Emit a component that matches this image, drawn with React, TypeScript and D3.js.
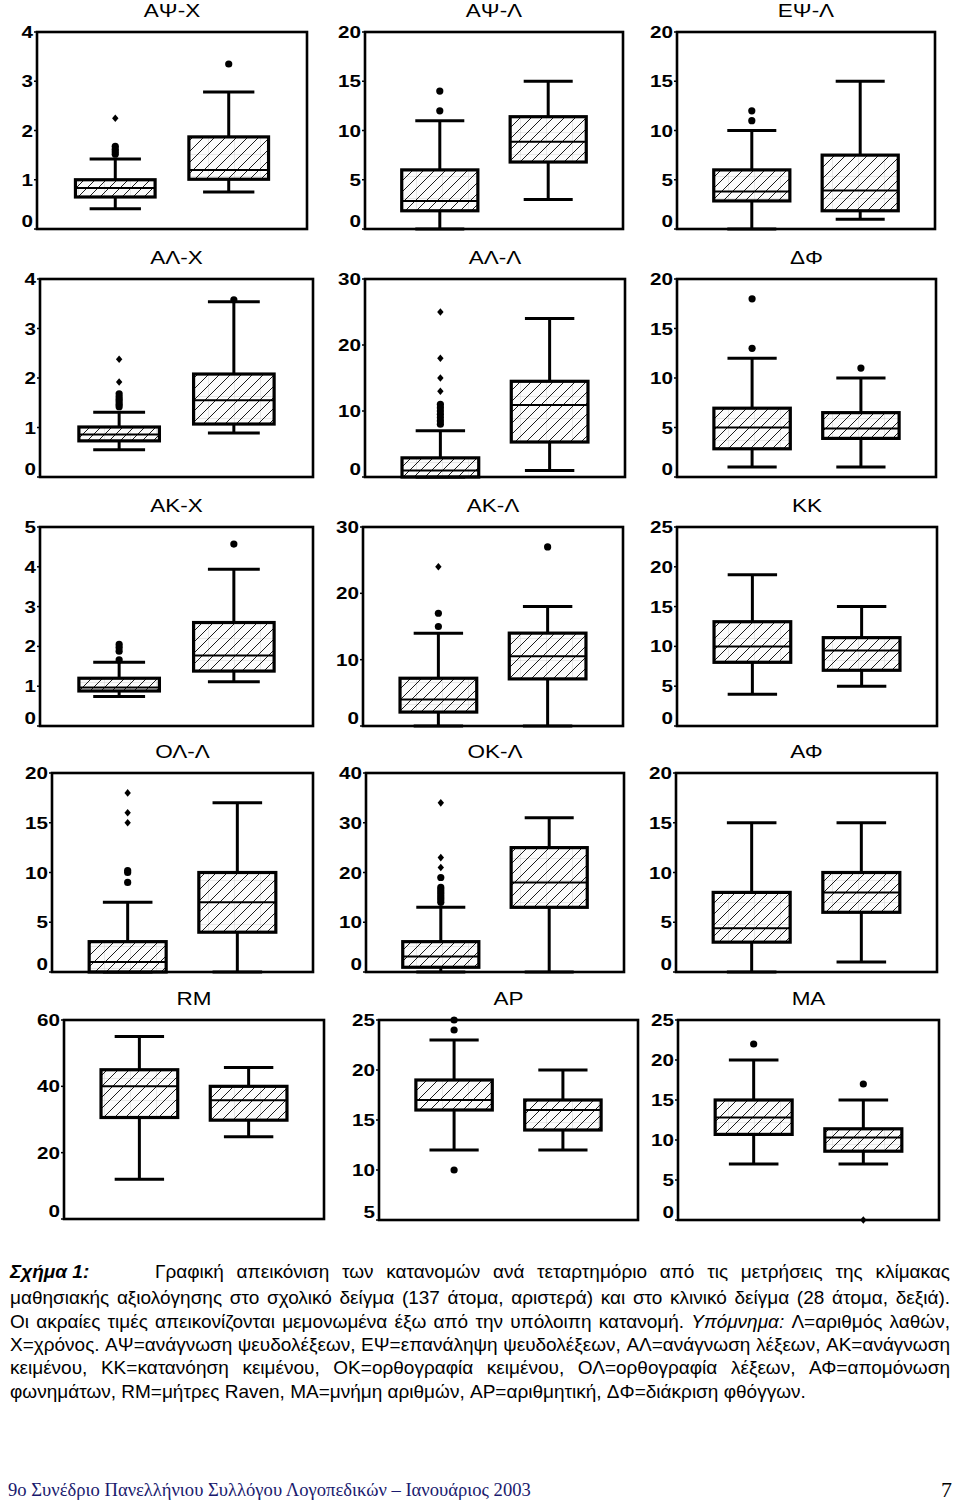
import React from "react";
import * as d3 from "d3";

// ---------- DATA ----------
const panelTitles = ["ΑΨ-Χ", "ΑΨ-Λ", "ΕΨ-Λ", "ΑΛ-Χ", "ΑΛ-Λ", "ΔΦ", "ΑΚ-Χ", "ΑΚ-Λ", "ΚΚ", "ΟΛ-Λ", "ΟΚ-Λ", "ΑΦ", "RM", "ΑΡ", "ΜΑ"];
const axisMin = [0, 0, 0, 0, 0, 0, 0, 0, 0, 0, 0, 0, 0, 5, 0];
const axisMax = [4, 20, 20, 4, 30, 20, 5, 30, 25, 20, 40, 20, 60, 25, 25];
const tickValues = [
  [0, 1, 2, 3, 4], [0, 5, 10, 15, 20], [0, 5, 10, 15, 20],
  [0, 1, 2, 3, 4], [0, 10, 20, 30], [0, 5, 10, 15, 20],
  [0, 1, 2, 3, 4, 5], [0, 10, 20, 30], [0, 5, 10, 15, 20, 25],
  [0, 5, 10, 15, 20], [0, 10, 20, 30, 40], [0, 5, 10, 15, 20],
  [0, 20, 40, 60], [5, 10, 15, 20, 25], [0, 5, 10, 15, 20, 25],
];
const groups = ["school", "clinic"];

// school sample (left box)
const schoolLow = [0.41, 0, 0, 0.55, 0, 1, 0.74, 0, 4, 0, 0, 0, 12, 12, 7];
const schoolQ1 = [0.65, 1.85, 2.85, 0.73, 0, 2.85, 0.88, 2.1, 8, 0, 0.95, 3, 30.6, 16, 10.7];
const schoolMedian = [0.83, 2.85, 3.8, 0.86, 1, 5, 0.97, 4, 10, 1, 3.1, 4.4, 40, 17, 12.8];
const schoolQ3 = [1.0, 6, 6, 1.01, 2.9, 6.95, 1.2, 7.2, 13.1, 3.05, 6.1, 8, 45, 19, 15];
const schoolHigh = [1.42, 11, 10, 1.31, 7, 12, 1.6, 14, 19, 7, 13, 15, 55, 23, 20];
const schoolOutliers = [
  [1.52, 1.57, 1.62, 1.68], [12, 14], [11, 12],
  [1.42, 1.47, 1.52, 1.57, 1.62, 1.68], [8, 8.5, 9, 9.5, 10, 10.5, 11], [13, 18],
  [1.66, 1.88, 1.97, 2.05], [15, 17], [],
  [9, 10, 10.2], [14, 14.5, 15, 15.5, 16, 16.5, 17, 19], [],
  [], [10, 24, 25], [22],
];
const schoolExtremes = [
  [2.25], [], [],
  [1.92, 2.38], [13, 15, 18, 25], [],
  [], [24], [],
  [15, 16, 18], [21, 23, 34], [],
  [], [], [],
];

// clinical sample (right box)
const clinicLow = [0.75, 3, 1, 0.89, 1, 1, 1.11, 0, 5, 0, 0, 1, 24.8, 12, 7];
const clinicQ1 = [1.01, 6.8, 1.85, 1.07, 5.3, 3.9, 1.38, 7.1, 7, 4, 13, 6, 29.8, 14, 8.6];
const clinicMedian = [1.2, 8.85, 3.9, 1.55, 10.9, 4.9, 1.77, 10.5, 9.5, 7, 18, 8, 35.8, 16, 10.3];
const clinicQ3 = [1.87, 11.4, 7.5, 2.08, 14.5, 6.5, 2.6, 14, 11.1, 10, 25, 10, 40, 17, 11.4];
const clinicHigh = [2.78, 15, 15, 3.54, 24, 10, 3.94, 18, 15, 17, 31, 15, 45.7, 20, 15];
const clinicOutliers = [
  [3.35], [], [],
  [3.58], [], [11],
  [4.57], [27], [],
  [], [], [],
  [], [], [17],
];
const clinicExtremes = [
  [], [], [],
  [], [], [],
  [], [], [],
  [], [], [],
  [], [], [0],
];

// ---------- LAYOUT ----------
const frames: number[][] = [
  [37, 32, 307, 229], [365, 32, 623, 229], [677, 32, 935, 229],
  [40, 279, 313, 477], [365, 279, 625, 477], [677, 279, 936, 477],
  [40, 527, 313, 726], [363, 527, 623, 726], [677, 527, 937, 726],
  [52, 773, 313, 972], [366, 773, 624, 972], [676, 773, 937, 972],
  [64, 1020, 324, 1219], [379, 1020, 638, 1220], [678, 1020, 939, 1220],
];

const SANS = "'Liberation Sans', Arial, Helvetica, sans-serif";
const SERIF = "'Liberation Serif', 'Times New Roman', serif";

type Seg = { t: string; i?: boolean };
const captionLines: { segs: Seg[]; x0: number; x1: number; justify: boolean; y: number; lead?: Seg }[] = [
  { lead: { t: "Σχήμα 1:", i: true }, segs: [{ t: "Γραφική απεικόνιση των κατανομών ανά τεταρτημόριο από τις μετρήσεις της κλίμακας" }], x0: 155, x1: 950, justify: true, y: 1278 },
  { segs: [{ t: "μαθησιακής αξιολόγησης στο σχολικό δείγμα (137 άτομα, αριστερά) και στο κλινικό δείγμα (28 άτομα, δεξιά)." }], x0: 10, x1: 950, justify: true, y: 1304 },
  { segs: [{ t: "Οι ακραίες τιμές απεικονίζονται μεμονωμένα έξω από την υπόλοιπη κατανομή." }, { t: "Υπόμνημα:", i: true }, { t: "Λ=αριθμός λαθών," }], x0: 10, x1: 950, justify: true, y: 1328 },
  { segs: [{ t: "Χ=χρόνος." }, { t: "ΑΨ=ανάγνωση ψευδολέξεων, ΕΨ=επανάληψη ψευδολέξεων, ΑΛ=ανάγνωση λέξεων, ΑΚ=ανάγνωση" }], x0: 10, x1: 950, justify: true, y: 1351 },
  { segs: [{ t: "κειμένου, ΚΚ=κατανόηση κειμένου, ΟΚ=ορθογραφία κειμένου, ΟΛ=ορθογραφία λέξεων, ΑΦ=απομόνωση" }], x0: 10, x1: 950, justify: true, y: 1374 },
  { segs: [{ t: "φωνημάτων, RM=μήτρες Raven, MA=μνήμη αριθμών, AP=αριθμητική, ΔΦ=διάκριση φθόγγων." }], x0: 10, x1: 950, justify: false, y: 1398 },
];

let ctx: CanvasRenderingContext2D | null = null;
function measure(s: string, font: string) {
  if (!ctx) ctx = document.createElement("canvas").getContext("2d");
  if (!ctx) return s.length * 8;
  ctx.font = font;
  return ctx.measureText(s).width;
}
const CAP_SIZE = 19;

function layoutLine(line: (typeof captionLines)[number]) {
  const words: { t: string; i: boolean; w: number }[] = [];
  line.segs.forEach((s) => {
    s.t.split(" ").filter((w) => w.length).forEach((w) => {
      const font = `${s.i ? "italic " : ""}${CAP_SIZE}px 'Liberation Sans'`;
      words.push({ t: w, i: !!s.i, w: measure(w, font) });
    });
  });
  const natural = d3.sum(words, (w) => w.w);
  const spaceW = measure(" ", `${CAP_SIZE}px 'Liberation Sans'`);
  const gap = line.justify && words.length > 1 ? (line.x1 - line.x0 - natural) / (words.length - 1) : spaceW;
  let x = line.x0;
  return words.map((w) => {
    const r = { ...w, x };
    x += w.w + gap;
    return r;
  });
}

const diamond = "M0,-3.8L3.2,0L0,3.8L-3.2,0Z";

function Panel({ i }: { i: number }) {
  const [x0, y0, x1, y1] = frames[i];
  const y = d3.scaleLinear().domain([axisMin[i], axisMax[i]]).range([y1, y0]);
  const x = d3.scalePoint<string>().domain(groups).range([x0, x1]).padding(0.69);
  const w = x1 - x0;
  const boxW = w * 0.295;
  const capW = w * 0.19;
  const stats = [
    { g: "school", lo: schoolLow[i], q1: schoolQ1[i], md: schoolMedian[i], q3: schoolQ3[i], hi: schoolHigh[i], out: schoolOutliers[i], ext: schoolExtremes[i] },
    { g: "clinic", lo: clinicLow[i], q1: clinicQ1[i], md: clinicMedian[i], q3: clinicQ3[i], hi: clinicHigh[i], out: clinicOutliers[i], ext: clinicExtremes[i] },
  ];
  const ticks = tickValues[i];
  return (
    <g>
      <text
        transform={`translate(${(x0 + x1) / 2},${y0 - 15}) scale(1.25,1)`}
        textAnchor="middle"
        fontFamily={SANS}
        fontSize={18}
        fill="#000"
      >
        {panelTitles[i]}
      </text>
      {ticks.map((t, k) => (
        <g key={t}>
          <line x1={x0 - 3} x2={x0} y1={y(t)} y2={y(t)} stroke="#000" strokeWidth={1.5} />
          <text
            transform={`translate(${x0 - 4},${y(t) + (k === 0 ? -8 : 0) + 6}) scale(1.25,1)`}
            textAnchor="end"
            fontFamily={SANS}
            fontWeight="bold"
            fontSize={16.5}
            fill="#000"
          >
            {t}
          </text>
        </g>
      ))}
      {stats.map((s) => {
        const cx = x(s.g) as number;
        return (
          <g key={s.g}>
            <line x1={cx} x2={cx} y1={y(s.lo)} y2={y(s.q1)} stroke="#000" strokeWidth={3} />
            <line x1={cx} x2={cx} y1={y(s.q3)} y2={y(s.hi)} stroke="#000" strokeWidth={3} />
            <line x1={cx - capW / 2} x2={cx + capW / 2} y1={y(s.lo)} y2={y(s.lo)} stroke="#000" strokeWidth={3} />
            <line x1={cx - capW / 2} x2={cx + capW / 2} y1={y(s.hi)} y2={y(s.hi)} stroke="#000" strokeWidth={3} />
            <rect x={cx - boxW / 2} y={y(s.q3)} width={boxW} height={Math.max(0, y(s.q1) - y(s.q3))} fill="#fbfbfb" />
            <rect x={cx - boxW / 2} y={y(s.q3)} width={boxW} height={Math.max(0, y(s.q1) - y(s.q3))} fill="url(#grid)" />
            <rect x={cx - boxW / 2} y={y(s.q3)} width={boxW} height={Math.max(0, y(s.q1) - y(s.q3))} fill="url(#hatch)" stroke="#000" strokeWidth={3.2} />
            <line x1={cx - boxW / 2} x2={cx + boxW / 2} y1={y(s.md)} y2={y(s.md)} stroke="#000" strokeWidth={2} />
            {s.out.map((v, k) => (
              <circle key={"o" + k} cx={cx} cy={y(v)} r={3.6} fill="#000" />
            ))}
            {s.ext.map((v, k) => (
              <path key={"e" + k} d={diamond} transform={`translate(${cx},${y(v)})`} fill="#000" />
            ))}
          </g>
        );
      })}
      <rect x={x0} y={y0} width={w} height={y1 - y0} fill="none" stroke="#000" strokeWidth={2.6} />
    </g>
  );
}

export default function App() {
  const lines = captionLines.map(layoutLine);
  return (
    <svg
      width={960}
      height={1502}
      viewBox="0 0 960 1502"
      style={{ position: "absolute", left: 0, top: 0, background: "#fff" }}
    >
      <defs>
        <pattern id="hatch" patternUnits="userSpaceOnUse" width={11} height={11}>
          <path d="M0,11L11,0M-3,3L3,-3M8,14L14,8" stroke="#000" strokeWidth={0.9} />
        </pattern>
        <pattern id="grid" patternUnits="userSpaceOnUse" width={26} height={22}>
          <path d="M0,0V22M0,0H26" stroke="#c8c8c8" strokeWidth={0.8} />
        </pattern>
      </defs>
      <rect x={0} y={0} width={960} height={1502} fill="#fff" />
      {panelTitles.map((_, i) => (
        <Panel key={i} i={i} />
      ))}
      {captionLines.map((line, li) => (
        <g key={li}>
          {line.lead && (
            <text x={10} y={line.y} fontFamily={SANS} fontSize={CAP_SIZE} fontStyle="italic" fontWeight="bold" fill="#000">
              {line.lead.t}
            </text>
          )}
          {lines[li].map((w, k) => (
            <text key={k} x={w.x} y={line.y} fontFamily={SANS} fontSize={CAP_SIZE} fontStyle={w.i ? "italic" : "normal"} fill="#000">
              {w.t}
            </text>
          ))}
        </g>
      ))}
      <text x={8} y={1496} fontFamily={SERIF} fontSize={18.6} fill="#1a1a6e">
        9ο Συνέδριο Πανελλήνιου Συλλόγου Λογοπεδικών – Ιανουάριος 2003
      </text>
      <text x={952} y={1497} textAnchor="end" fontFamily={SERIF} fontSize={22} fill="#000">
        7
      </text>
    </svg>
  );
}
